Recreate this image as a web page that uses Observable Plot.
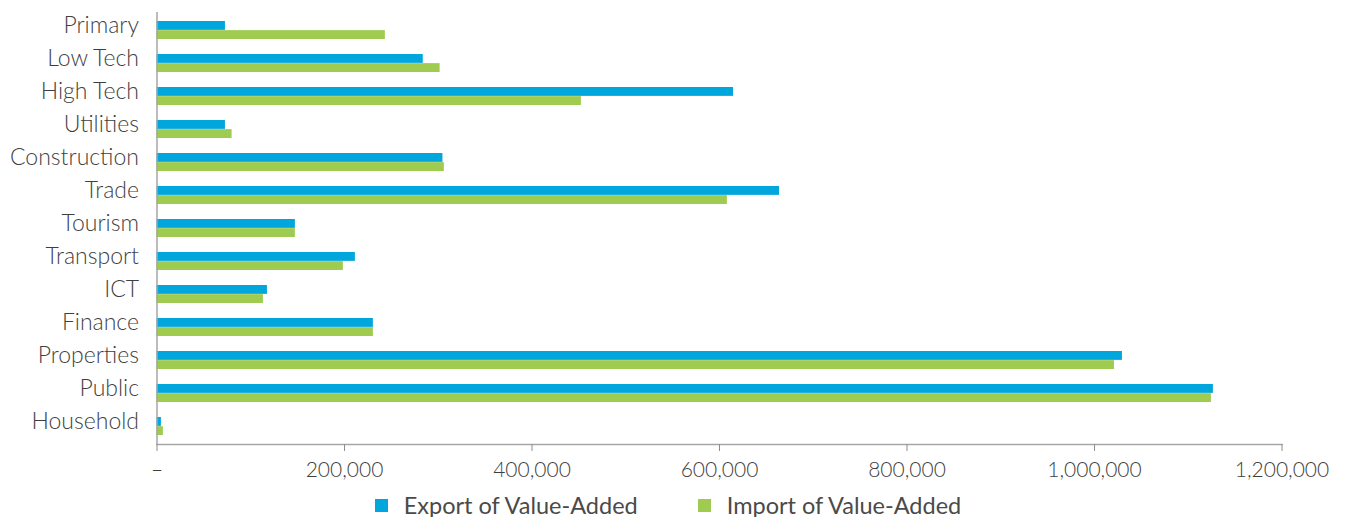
<!DOCTYPE html>
<html>
<head>
<meta charset="utf-8">
<script src="https://cdn.jsdelivr.net/npm/d3@7"></script>
<script src="https://cdn.jsdelivr.net/npm/@observablehq/plot@0.6"></script>
<style>
  body { margin: 0; background: #fff; font-family: Lato, "Open Sans", sans-serif; }
  #legend { display: flex; justify-content: center; gap: 60px; margin-top: 10px; margin-left: -10px; font-size: 23.5px; font-weight: 400; color: #4a4a4a; line-height: 23px; }
  .item { display: flex; align-items: center; }
  .sw { width: 13px; height: 13px; margin-right: 16px; display: inline-block; }
</style>
</head>
<body>
<div id="chart"></div>
<div id="legend"></div>
<script>
const categories = ["Primary","Low Tech","High Tech","Utilities","Construction","Trade","Tourism","Transport","ICT","Finance","Properties","Public","Household"];
const exportValues = [73000, 284000, 615000, 73000, 305000, 664000, 147600, 211600, 117800, 230800, 1029800, 1126800, 4700];
const importValues = [243600, 302000, 452700, 80100, 306500, 608400, 147600, 198800, 113500, 230800, 1021300, 1124700, 6800];
const seriesNames = ["Export of Value-Added", "Import of Value-Added"];
const seriesColors = ["#00a6dc", "#9fcc50"];
const xTicks = [0, 200000, 400000, 600000, 800000, 1000000, 1200000];

const exportData = categories.map((c, i) => ({category: c, value: exportValues[i]}));
const importData = categories.map((c, i) => ({category: c, value: importValues[i]}));

const W = 1346, H = 484, mTop = 12, mBottom = 40;
const bandwidth = 0.55 * (H - mTop - mBottom) / categories.length;
const half = bandwidth / 2;

const fmt = d3.format(",");
const chart = Plot.plot({
  width: W,
  height: H,
  marginTop: mTop,
  marginBottom: mBottom,
  marginLeft: 156.5,
  marginRight: 64.5,
  style: {fontFamily: "Lato, 'Open Sans', sans-serif", fontSize: "20px", fontWeight: 300, color: "#3f3f3f", background: "#fff"},
  x: {domain: [0, 1200000]},
  y: {domain: categories, paddingInner: 0.45, paddingOuter: 0.225},
  marks: [
    Plot.barX(exportData, {y: "category", x: "value", fill: seriesColors[0], insetBottom: half}),
    Plot.barX(importData, {y: "category", x: "value", fill: seriesColors[1], insetTop: half}),
    Plot.ruleX([0], {stroke: "#a6a6a6", strokeWidth: 1.5}),
    Plot.frame({anchor: "bottom", stroke: "#a6a6a6", strokeWidth: 1.5}),
    Plot.axisX({ticks: xTicks, tickSize: 7, tickPadding: 11, tickFormat: d => d === 0 ? "–" : fmt(d), stroke: "#8c8c8c", fontSize: 21, label: null}),
    Plot.axisY({tickSize: 0, tickPadding: 18, fontSize: 23, dy: -5, label: null})
  ]
});
document.getElementById("chart").appendChild(chart);

const legend = document.getElementById("legend");
seriesNames.forEach((n, i) => {
  const it = document.createElement("div");
  it.className = "item";
  const sw = document.createElement("span");
  sw.className = "sw";
  sw.style.background = seriesColors[i];
  it.appendChild(sw);
  const t = document.createElement("span");
  t.textContent = n;
  it.appendChild(t);
  legend.appendChild(it);
});
</script>
</body>
</html>
